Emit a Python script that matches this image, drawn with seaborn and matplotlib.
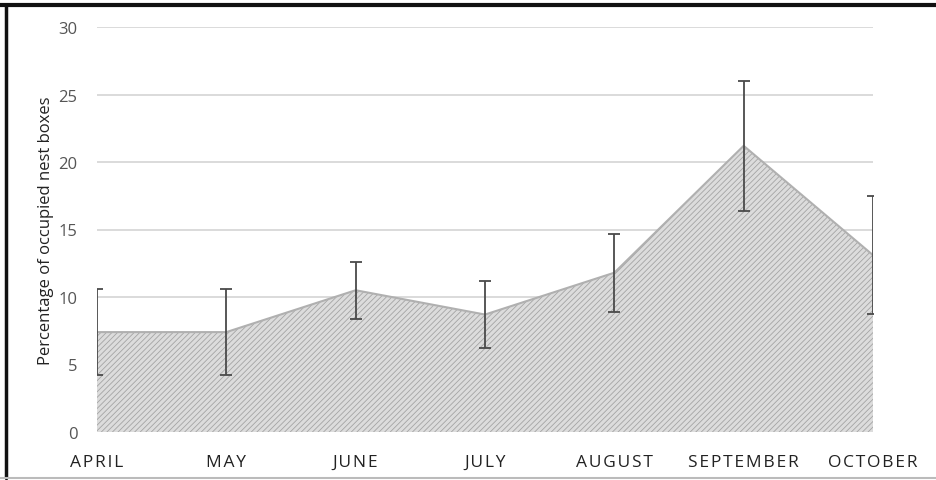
import matplotlib
matplotlib.use("Agg")
import matplotlib.pyplot as plt
from matplotlib.lines import Line2D
import numpy as np
import pandas as pd
import seaborn as sns

# Data
months = ["APRIL", "MAY", "JUNE", "JULY", "AUGUST", "SEPTEMBER", "OCTOBER"]
occupied = [7.4, 7.4, 10.5, 8.7, 11.8, 21.2, 13.1]
errors = [3.2, 3.2, 2.1, 2.45, 2.9, 4.8, 4.35]
yticks = [0, 5, 10, 15, 20, 25, 30]

df = pd.DataFrame({"month": months, "pct": occupied, "err": errors})
df["pos"] = np.arange(len(df))

sns.set_style("white")
plt.rcParams["font.family"] = ["Open Sans", "DejaVu Sans"]
plt.rcParams["hatch.linewidth"] = 0.6
plt.rcParams["hatch.color"] = "#a4a4a4"

fig = plt.figure(figsize=(9.37, 4.81), dpi=100)
ax = fig.add_axes([97 / 937, 48 / 481, 776 / 937, 405 / 481])

# Gridlines
for t in yticks[1:]:
    ax.axhline(t, color="#d4d4d4", lw=1.2, zorder=0)

# Hatched area
ax.fill_between(df["pos"], df["pct"], 0, facecolor="#dcdcdc",
                edgecolor="#a4a4a4", hatch="//////", lw=0, zorder=1)
sns.lineplot(data=df, x="pos", y="pct", ax=ax, color="#b0b0b0",
             lw=1.5, zorder=2)

# Error bars
ax.errorbar(df["pos"], df["pct"], yerr=df["err"], fmt="none",
            ecolor="#4a4a4a", elinewidth=1.3, capsize=4, capthick=1.3,
            zorder=3)

# letter-spaced month labels (hair spaces)
spaced = ["\u200a".join(m) for m in months]

ax.set_xlim(0, len(months) - 1)
ax.set_ylim(0, 30)
ax.set_xticks(df["pos"])
ax.set_xticklabels(spaced, fontsize=12.5, color="#222222")
ax.set_yticks(yticks)
ax.set_yticklabels([str(t) for t in yticks], fontsize=12, color="#555555")
ax.tick_params(axis="x", length=0, pad=16)
ax.tick_params(axis="y", length=0, pad=14)
ax.set_xlabel("")
ax.set_ylabel("Percentage of occupied nest boxes", fontsize=12,
              color="#222222", labelpad=3)
for s in ax.spines.values():
    s.set_visible(False)

# Frame around the figure
fig.add_artist(Line2D([0, 1], [1 - 5.5 / 481] * 2, transform=fig.transFigure,
                      color="#111111", lw=3))
fig.add_artist(Line2D([6.5 / 937] * 2, [2 / 481, 1 - 5.5 / 481],
                      transform=fig.transFigure, color="#111111", lw=2.5))
fig.add_artist(Line2D([0, 1], [2.5 / 481] * 2, transform=fig.transFigure,
                      color="#bbbbbb", lw=1.5))

fig.savefig("out.png", dpi=100)
